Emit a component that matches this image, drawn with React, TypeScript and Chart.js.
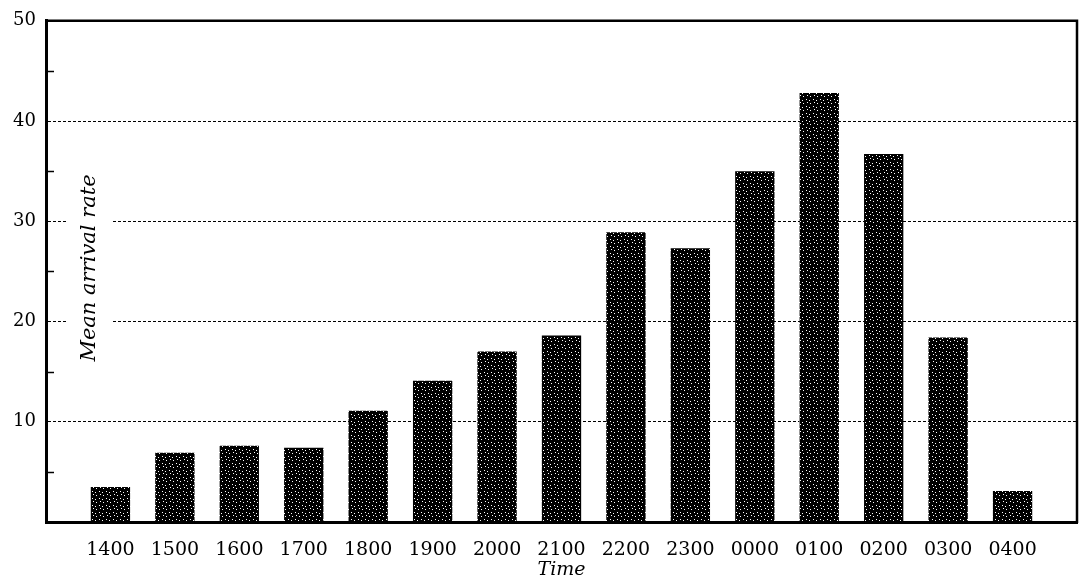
import React, { useEffect, useRef } from 'react';
import { Chart, registerables } from 'chart.js';

Chart.register(...registerables);

const times = ['1400', '1500', '1600', '1700', '1800', '1900', '2000', '2100', '2200', '2300', '0000', '0100', '0200', '0300', '0400'];
const arrivalRate = [3.5, 6.9, 7.6, 7.4, 11.1, 14.1, 17.0, 18.6, 28.9, 27.3, 35.0, 42.8, 36.7, 18.4, 3.1];
const yTickValues = [10, 20, 30, 40, 50];
const minorTickValues = [5, 15, 25, 35, 45];
const yTitle = 'Mean arrival rate';
const xTitle = 'Time';

const SERIF = '"DejaVu Serif", "Liberation Serif", serif';

function makePattern(ctx: CanvasRenderingContext2D) {
  const c = document.createElement('canvas');
  c.width = 7;
  c.height = 7;
  const g = c.getContext('2d')!;
  g.fillStyle = '#000';
  g.fillRect(0, 0, 7, 7);
  g.fillStyle = '#ffffff';
  [[1, 1], [4, 2], [2, 4], [5, 5]].forEach(([x, y]) => g.fillRect(x, y, 1, 1));
  return ctx.createPattern(c, 'repeat') as CanvasPattern;
}

const framePlugin = {
  id: 'frame',
  afterDraw(chart: any) {
    const { ctx, chartArea, scales } = chart;
    const { left, right, top, bottom } = chartArea;
    const y = scales.y;
    ctx.save();
    ctx.strokeStyle = '#000';
    // top and right border
    ctx.lineWidth = 2.5;
    ctx.beginPath();
    ctx.moveTo(left - 1, top);
    ctx.lineTo(right, top);
    ctx.lineTo(right, bottom + 1);
    ctx.stroke();
    // minor ticks on left axis
    ctx.lineWidth = 1.5;
    minorTickValues.forEach((v) => {
      const py = Math.round(y.getPixelForValue(v)) + 0.5;
      ctx.beginPath();
      ctx.moveTo(left, py);
      ctx.lineTo(left + 8, py);
      ctx.stroke();
    });
    // y title inside plot area
    ctx.translate(90, 268);
    ctx.rotate(-Math.PI / 2);
    ctx.font = `italic 21px ${SERIF}`;
    const w = ctx.measureText(yTitle).width;
    ctx.fillStyle = '#fff';
    ctx.fillRect(-w / 2 - 4, -22, w + 8, 45);
    ctx.fillStyle = '#000';
    ctx.textAlign = 'center';
    ctx.textBaseline = 'middle';
    ctx.fillText(yTitle, 0, 0);
    ctx.restore();
  },
};

export default function App() {
  const ref = useRef<HTMLCanvasElement>(null);

  useEffect(() => {
    const canvas = ref.current!;
    const ctx = canvas.getContext('2d')!;
    const pattern = makePattern(ctx);
    const chart = new Chart(canvas, {
      type: 'bar',
      data: {
        datasets: [
          {
            label: yTitle,
            data: arrivalRate.map((v, i) => ({ x: i + 1, y: v })),
            backgroundColor: pattern,
            borderWidth: 0,
            barPercentage: 0.61,
            categoryPercentage: 1,
          },
        ],
      },
      options: {
        animation: false,
        responsive: false,
        layout: { padding: { left: 0, right: 14, top: 20, bottom: 0 } },
        plugins: { legend: { display: false }, tooltip: { enabled: false } },
        scales: {
          x: {
            type: 'linear',
            offset: false,
            min: 0,
            max: 16,
            afterBuildTicks: (scale: any) => {
              scale.ticks = times.map((_, i) => ({ value: i + 1 }));
            },
            afterFit: (scale: any) => {
              scale.height = 64;
            },
            grid: { display: false, drawTicks: false, offset: false },
            border: { display: true, width: 3, color: '#000' },
            ticks: {
              autoSkip: false,
              maxRotation: 0,
              padding: 17,
              color: '#000',
              font: { family: SERIF, size: 19 },
              callback: (v: any) => times[Number(v) - 1] ?? '',
            },
            title: {
              display: true,
              text: xTitle,
              color: '#000',
              font: { family: SERIF, size: 19, style: 'italic' },
              padding: { top: 0, bottom: 5 },
            },
          },
          y: {
            type: 'linear',
            min: 0,
            max: 50,
            afterBuildTicks: (scale: any) => {
              scale.ticks = [0, ...yTickValues].map((v) => ({ value: v }));
            },
            afterFit: (scale: any) => {
              scale.width = 46;
            },
            grid: {
              drawTicks: false,
              lineWidth: 1,
              color: (c: any) => (c.tick && (c.tick.value === 0 || c.tick.value === 50) ? 'rgba(0,0,0,0)' : '#000'),
            },
            border: { display: true, width: 3, color: '#000', dash: [3, 2] as any },
            ticks: {
              padding: 10,
              color: '#000',
              font: { family: SERIF, size: 18 },
              callback: (v: any) => (Number(v) === 0 ? '' : String(v)),
            },
          },
        },
      },
      plugins: [framePlugin],
    });
    return () => chart.destroy();
  }, []);

  return (
    <div style={{ position: 'absolute', left: 0, top: 0, width: 1091, height: 586, background: '#fff' }}>
      <canvas ref={ref} width={1091} height={586} />
    </div>
  );
}
